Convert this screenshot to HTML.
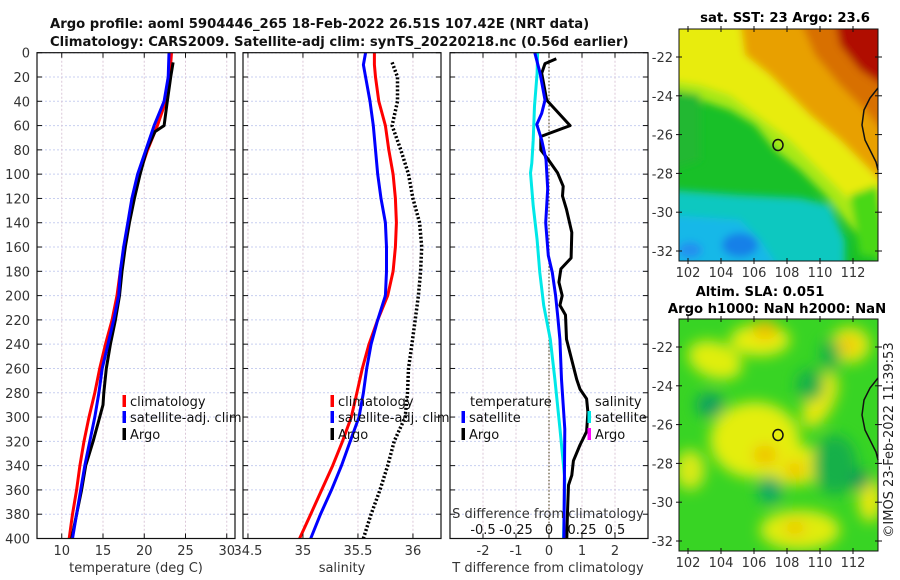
<!DOCTYPE html>
<html><head><meta charset="utf-8">
<style>
html,body{margin:0;padding:0;background:#fff;}
svg{display:block;font-family:"DejaVu Sans","Liberation Sans",sans-serif;}
</style></head>
<body>
<svg id="fig" width="900" height="580" viewBox="0 0 900 580" xmlns="http://www.w3.org/2000/svg">
<defs>
<filter id="blur1" x="-10%" y="-10%" width="120%" height="120%"><feGaussianBlur stdDeviation="4"/></filter>
<filter id="blur2" x="-30%" y="-30%" width="160%" height="160%"><feGaussianBlur stdDeviation="7"/></filter>
<clipPath id="clipTop"><rect x="679" y="29" width="199" height="232"/></clipPath>
<clipPath id="clipBot"><rect x="679" y="319" width="199" height="232"/></clipPath>
</defs>
<g font-weight="bold" font-size="13.2" fill="#111">
<text x="50" y="28">Argo profile: aoml 5904446_265 18-Feb-2022 26.51S 107.42E (NRT data)</text>
<text x="50" y="46">Climatology: CARS2009. Satellite-adj clim: synTS_20220218.nc (0.56d earlier)</text>
</g>
<g id="grids"></g>
<g id="marks"></g>
<g id="axes"></g>
<g id="legends" font-size="13" fill="#111"></g>

<g>
<text x="785" y="22" text-anchor="middle" font-weight="bold" font-size="13.2">sat. SST: 23 Argo: 23.6</text>
<g clip-path="url(#clipTop)">
<rect x="679" y="29" width="199" height="232" fill="#18c028"/>
<g filter="url(#blur1)">
<polygon points="670,20 890,20 890,270 870,250 845,220 825,195 800,170 775,150 755,125 730,110 700,100 670,100" fill="#a8e818"/>
<polygon points="670,20 890,20 890,250 870,230 850,200 830,180 810,160 790,140 770,125 750,110 730,95 700,85 670,80" fill="#e8ec10"/>
<polygon points="740,20 890,20 890,190 860,160 840,140 810,115 790,95 770,75 745,55" fill="#e8a000"/>
<polygon points="800,20 890,20 890,140 865,110 840,85 815,55" fill="#d87000"/>
<polygon points="835,20 890,20 890,90 860,70 840,45" fill="#b01000"/>
<polygon points="670,190 740,195 800,198 830,205 845,240 845,270 670,270" fill="#10c8c0"/>
<polygon points="670,215 740,220 760,240 780,270 670,270" fill="#18b8e8"/>
<ellipse cx="740" cy="245" rx="18" ry="12" fill="#1880e8"/>
<ellipse cx="690" cy="250" rx="12" ry="8" fill="#2090f0"/>
<polygon points="850,195 878,185 890,260 860,255" fill="#48d818"/>
<polygon points="670,90 700,95 700,160 670,170" fill="#20b830"/>
</g>
</g>
<rect x="679" y="29" width="199" height="232" fill="none" stroke="#111" stroke-width="1"/>
<path d="M878,88 L870,98 L864,110 L862,125 L865,140 L870,150 L876,162 L878,170" fill="none" stroke="#111" stroke-width="1.5"/>
<ellipse cx="778" cy="145" rx="5" ry="5.5" fill="none" stroke="#111" stroke-width="1.5"/>
</g>
<g>
<text x="760" y="296" text-anchor="middle" font-weight="bold" font-size="13.2">Altim. SLA: 0.051</text>
<text x="777" y="313" text-anchor="middle" font-weight="bold" font-size="13.2">Argo h1000: NaN h2000: NaN</text>
<g clip-path="url(#clipBot)">
<rect x="679" y="319" width="199" height="232" fill="#38d424"/>
<g filter="url(#blur2)">
<ellipse cx="715" cy="360" rx="28" ry="18" fill="#e0ee10" transform="rotate(20 715 360)"/>
<ellipse cx="760" cy="340" rx="30" ry="16" fill="#e8ee10"/>
<ellipse cx="765" cy="330" rx="12" ry="10" fill="#f0c000"/>
<ellipse cx="850" cy="345" rx="20" ry="18" fill="#e8e810"/>
<ellipse cx="848" cy="345" rx="8" ry="8" fill="#f0c010"/>
<ellipse cx="820" cy="400" rx="14" ry="30" fill="#e8e810" transform="rotate(25 820 400)"/>
<ellipse cx="755" cy="440" rx="45" ry="38" fill="#e4ee10"/>
<ellipse cx="795" cy="465" rx="30" ry="20" fill="#e8ec10"/>
<ellipse cx="765" cy="455" rx="12" ry="10" fill="#f0c000"/>
<ellipse cx="795" cy="470" rx="10" ry="8" fill="#f0c000"/>
<ellipse cx="690" cy="470" rx="15" ry="20" fill="#d8ea18"/>
<ellipse cx="800" cy="530" rx="40" ry="20" fill="#e0ec10"/>
<ellipse cx="795" cy="528" rx="10" ry="7" fill="#f0c000"/>
<ellipse cx="870" cy="500" rx="12" ry="22" fill="#e8e810"/>
<ellipse cx="710" cy="405" rx="14" ry="12" fill="#10a060"/>
<ellipse cx="770" cy="490" rx="12" ry="14" fill="#10a868"/>
<ellipse cx="835" cy="465" rx="22" ry="30" fill="#14b048"/>
<ellipse cx="860" cy="480" rx="10" ry="10" fill="#109858"/>
<ellipse cx="810" cy="385" rx="14" ry="16" fill="#14b048"/>
<ellipse cx="830" cy="355" rx="10" ry="16" fill="#14b048"/>
</g>
</g>
<rect x="679" y="319" width="199" height="232" fill="none" stroke="#111" stroke-width="1"/>
<path d="M878,378 L870,388 L864,400 L862,415 L865,430 L870,440 L876,452 L878,460" fill="none" stroke="#111" stroke-width="1.5"/>
<ellipse cx="778" cy="435" rx="5" ry="5.5" fill="none" stroke="#111" stroke-width="1.5"/>
</g>
<text transform="translate(893,440) rotate(-90)" text-anchor="middle" font-size="13" fill="#222">©IMOS 23-Feb-2022 11:39:53</text>
<g id="mapaxes" font-size="13" fill="#333"></g>
</svg>
<script>
const tDepthClim = [0,20,40,60,80,100,120,140,160,180,200,220,240,260,280,300,320,340,360,380,400];
const tClim = [23.3,23.1,22.6,21.6,20.4,19.4,18.7,18.1,17.6,17.1,16.7,16.1,15.3,14.6,14.0,13.3,12.7,12.2,11.8,11.3,10.9];
const tSat  = [23.0,22.9,22.4,21.2,20.2,19.2,18.5,18.0,17.5,17.1,16.9,16.3,15.6,14.9,14.5,14.0,13.4,12.8,12.3,11.8,11.3];
const tDepthArgo = [8,20,40,60,65,80,100,120,140,160,180,200,220,240,260,280,290,300,320,340,360,380,400];
const tArgo = [23.5,23.2,22.8,22.4,21.3,20.3,19.5,18.8,18.2,17.7,17.3,17.0,16.5,15.9,15.4,15.1,15.0,14.6,13.8,12.9,12.4,11.8,11.2];
const sDepth = [0,10,20,40,60,80,100,120,140,160,180,200,220,240,260,280,300,320,340,360,380,400];
const sClim = [35.65,35.65,35.66,35.69,35.75,35.78,35.82,35.84,35.85,35.84,35.82,35.77,35.68,35.60,35.54,35.49,35.44,35.36,35.27,35.17,35.07,34.97];
const sSat  = [35.57,35.55,35.57,35.61,35.64,35.66,35.68,35.71,35.75,35.76,35.76,35.75,35.68,35.62,35.58,35.55,35.51,35.43,35.35,35.26,35.16,35.07];
const sDepthArgo = [8,20,40,60,80,100,120,140,160,180,200,220,240,260,280,300,320,340,360,380,400];
const sArgo = [35.81,35.86,35.86,35.81,35.89,35.96,36.00,36.06,36.08,36.07,36.05,36.02,35.99,35.96,35.95,35.93,35.83,35.77,35.70,35.62,35.55];
const dDepthArgoT = [5,9,17,39,60,69,80,88,99,110,118,129,148,169,178,189,200,208,216,236,269,277,285,296,312,323,336,348,356,378,400];
const dArgoT = [0.22,-0.12,-0.22,-0.07,0.64,-0.25,-0.25,-0.02,0.26,0.43,0.41,0.53,0.69,0.67,0.36,0.30,0.40,0.33,0.50,0.53,0.84,0.94,1.14,1.18,1.14,0.94,0.74,0.69,0.59,0.56,0.54];
const dDepthSatT = [0,17,39,50,59,72,88,112,140,167,181,200,216,236,269,310,400];
const dSatT = [-0.43,-0.27,-0.12,-0.22,-0.37,-0.22,-0.09,-0.04,-0.10,-0.02,0.10,0.20,0.26,0.33,0.38,0.48,0.45];
const dDepthSatS = [0,17,44,72,91,99,126,154,181,208,236,269,310,351,400];
const dSatS = [-0.086,-0.09,-0.11,-0.12,-0.13,-0.14,-0.12,-0.09,-0.07,-0.04,0.01,0.045,0.083,0.12,0.11];
const depthTicks = [0,20,40,60,80,100,120,140,160,180,200,220,240,260,280,300,320,340,360,380,400];
const tTicks = [10,15,20,25,30];
const sTicks = [34.5,35,35.5,36];
const sTickLabels = ["34.5","35","35.5","36"];
const dTTicks = [-2,-1,0,1,2];
const dSTicks = [-0.5,-0.25,0,0.25,0.5];
const dSTickLabels = ["-0.5","-0.25","0","0.25","0.5"];
const latTicks = [-22,-24,-26,-28,-30,-32];
const lonTicks = [102,104,106,108,110,112];

const NS = "http://www.w3.org/2000/svg";
const Y0 = 52.7, Y1 = 538.5;
function yD(d){ return Y0 + d*(Y1-Y0)/400; }
const P1 = {x0:37, x1:235, v0:7, v1:31};
const P2 = {x0:243, x1:441, v0:34.455, v1:36.255};
const P3 = {x0:450, x1:648, v0:-3, v1:3};
function xP(p, v){ return p.x0 + (v-p.v0)*(p.x1-p.x0)/(p.v1-p.v0); }
function xS3(s){ return xP(P3, s*4); }
function mk(tag, parent, attrs){ const e = document.createElementNS(NS, tag); for (const k in attrs) e.setAttribute(k, attrs[k]); parent.appendChild(e); return e; }
const grids = document.getElementById('grids'), marks = document.getElementById('marks'), axes = document.getElementById('axes'), legends = document.getElementById('legends'), mapaxes = document.getElementById('mapaxes');

function panelFrame(p, name, xt, xl){
  for (const d of depthTicks){
    const l = mk('line', grids, {x1:p.x0, x2:p.x1, y1:yD(d), y2:yD(d), stroke:'#c8cff0', 'stroke-width':1, 'stroke-dasharray':'2,2'});
    
    
    mk('line', axes, {x1:p.x0, x2:p.x0+5, y1:yD(d), y2:yD(d), stroke:'#111'});
    mk('line', axes, {x1:p.x1-5, x2:p.x1, y1:yD(d), y2:yD(d), stroke:'#111'});
  }
  xt.forEach((v,i)=>{
    const x = xP(p, v);
    const l = mk('line', grids, {x1:x, x2:x, y1:Y0, y2:Y1, stroke:'#dcc8d8', 'stroke-width':1, 'stroke-dasharray':'2,2'});
    
    
    mk('line', axes, {x1:x, x2:x, y1:Y1, y2:Y1-5, stroke:'#111'});
    mk('line', axes, {x1:x, x2:x, y1:Y0, y2:Y0+5, stroke:'#111'});
    const t = mk('text', axes, {x:x, y:555, 'text-anchor':'middle', 'font-size':13, fill:'#333'});
    t.textContent = xl[i];
    
    
  });
  const r = mk('rect', axes, {x:p.x0, y:Y0, width:p.x1-p.x0, height:Y1-Y0, fill:'none', stroke:'#111', 'stroke-width':1.2});
  
  
}
panelFrame(P1, 'temperature-panel', tTicks, tTicks.map(String));
panelFrame(P2, 'salinity-panel', sTicks, sTickLabels);
panelFrame(P3, 'difference-panel', dTTicks, dTTicks.map(String));
for (const d of depthTicks){
  const t = mk('text', axes, {x:30, y:yD(d)+5, 'text-anchor':'end', 'font-size':13, fill:'#333'});
  t.textContent = d;
  
  
}
dSTicks.forEach((v,i)=>{
  const t = mk('text', axes, {x:xS3(v), y:534, 'text-anchor':'middle', 'font-size':13, fill:'#111'});
  t.textContent = dSTickLabels[i];
  
  
});
function axTitle(x, y, s, name, anchor){
  const t = mk('text', axes, {x:x, y:y, 'text-anchor':anchor||'middle', 'font-size':13, fill:'#333'});
  t.textContent = s;
  
  
}
axTitle(136, 572, 'temperature (deg C)', 'temperature-axis-title');
axTitle(342, 572, 'salinity', 'salinity-axis-title');
axTitle(548, 572, 'T difference from climatology', 't-difference-axis-title');
axTitle(548, 518, 'S difference from climatology', 's-difference-axis-title');

const z = mk('line', marks, {x1:xP(P3,0), x2:xP(P3,0), y1:Y0, y2:Y1, stroke:'#5a5030', 'stroke-width':1.2, 'stroke-dasharray':'1.5,2'});



function series(depths, vals, xf, color, name, dash){
  const pts = depths.map((d,i)=> xf(vals[i]).toFixed(1)+','+yD(d).toFixed(1)).join(' ');
  const attrs = {points:pts, fill:'none', stroke:color, 'stroke-width':3, 'stroke-linejoin':'round'};
  if (dash) { attrs['stroke-dasharray'] = dash; attrs['stroke-width'] = 3.5; }
  const pl = mk('polyline', marks, attrs);
  
  
}
series(tDepthClim, tClim, v=>xP(P1,v), '#ff0000', 'temperature-climatology-line');
series(tDepthArgo, tArgo, v=>xP(P1,v), '#000000', 'temperature-argo-line');
series(tDepthClim, tSat, v=>xP(P1,v), '#0000ff', 'temperature-satellite-line');
series(sDepth, sClim, v=>xP(P2,v), '#ff0000', 'salinity-climatology-line');
series(sDepth, sSat, v=>xP(P2,v), '#0000ff', 'salinity-satellite-line');
series(sDepthArgo, sArgo, v=>xP(P2,v), '#000000', 'salinity-argo-line', '2,2');
series(dDepthSatS, dSatS, xS3, '#00e8e8', 'salinity-satellite-difference-line');
series(dDepthArgoT, dArgoT, v=>xP(P3,v), '#000000', 'temperature-argo-difference-line');
series(dDepthSatT, dSatT, v=>xP(P3,v), '#0000ff', 'temperature-satellite-difference-line');

function legendEntry(x, y, color, label, name){
  const m = mk('rect', legends, {x:x-1.5, y:y-11, width:3.5, height:12, fill:color});
  
  
  if (label){
    const t = mk('text', legends, {x:x+6, y:y});
    t.textContent = label;
    
    
  }
}
const LY = [406, 422, 439];
legendEntry(124, LY[0], '#ff0000', 'climatology', 'legend-t-climatology');
legendEntry(124, LY[1], '#0000ff', 'satellite-adj. clim', 'legend-t-satellite');
legendEntry(124, LY[2], '#000000', 'Argo', 'legend-t-argo');
legendEntry(332, LY[0], '#ff0000', 'climatology', 'legend-s-climatology');
legendEntry(332, LY[1], '#0000ff', 'satellite-adj. clim', 'legend-s-satellite');
legendEntry(332, LY[2], '#000000', 'Argo', 'legend-s-argo');
(function(){ const t = mk('text', legends, {x:470, y:LY[0]}); t.textContent='temperature';  
 const t2 = mk('text', legends, {x:595, y:LY[0]}); t2.textContent='salinity';   })();
legendEntry(463, LY[1], '#0000ff', 'satellite', 'legend-dt-satellite');
legendEntry(463, LY[2], '#000000', 'Argo', 'legend-dt-argo');
legendEntry(589, LY[1], '#00e8e8', 'satellite', 'legend-ds-satellite');
legendEntry(589, LY[2], '#ff00ff', 'Argo', 'legend-ds-argo');

function lonX(l){ return 688 + (l-102)*16.5; }
function mapAxes(top, latY0, name){
  latTicks.forEach(l=>{
    const y = latY0 + (-22 - l)*19.4;
    const t = mk('text', mapaxes, {x:673, y:y+5, 'text-anchor':'end'});
    t.textContent = l;
    
    
    mk('line', mapaxes, {x1:875, x2:882, y1:y, y2:y, stroke:'#111'});
    mk('line', mapaxes, {x1:676, x2:682, y1:y, y2:y, stroke:'#111'});
  });
  lonTicks.forEach(l=>{
    const x = lonX(l);
    const t = mk('text', mapaxes, {x:x, y:top+232+16, 'text-anchor':'middle'});
    t.textContent = l;
    
    
    mk('line', mapaxes, {x1:x, x2:x, y1:top-3, y2:top+3, stroke:'#111'});
    mk('line', mapaxes, {x1:x, x2:x, y1:top+229, y2:top+235, stroke:'#111'});
  });
}
mapAxes(29, 57, 'sst-map');
mapAxes(319, 347, 'sla-map');
</script>
</body></html>
